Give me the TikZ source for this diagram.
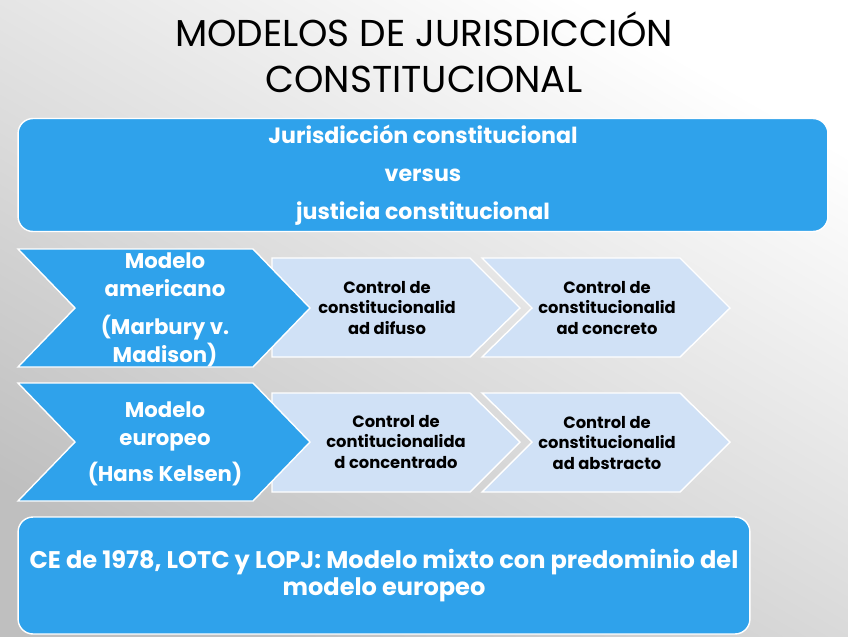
\documentclass[tikz,border=0pt]{standalone}
\usepackage{fontspec}
\setmainfont{Poppins}
\usepackage{tikz}
\usepackage{xcolor}

\definecolor{boxblue}{RGB}{47,162,235}
\definecolor{paleblue}{RGB}{208,225,246}

\begin{document}
\begin{tikzpicture}[
  x=0.02cm, y=-0.02cm,
  bigbox/.style={draw=white, line width=0.8pt, fill=boxblue, rounded corners=8.5pt,
    text=white, align=center, inner sep=0pt},
  chev/.style={draw=white, line width=0.8pt, fill=boxblue},
  pale/.style={draw=white, line width=0.8pt, fill=paleblue},
  chevtxt/.style={text=white, align=center, inner sep=0pt,
    font=\bfseries\fontsize{12.1}{15.8}\selectfont},
  paletxt/.style={text=black, align=center, inner sep=0pt,
    font=\bfseries\fontsize{9.3}{11.9}\selectfont}
]
  % background
  \shade[top color=white, bottom color=gray!50, shading angle=-30] (0,0) rectangle (848,636);

  % title
  \node[align=center, font=\fontsize{21.3}{26}\selectfont] (title) at (424,52)
    {MODELOS DE JURISDICCIÓN\\CONSTITUCIONAL};

  % top box
  \node[bigbox, minimum width=16.2cm, minimum height=2.26cm,
    font=\bfseries\fontsize{12.6}{21.5}\selectfont] (jurbox) at (423,175)
    {Jurisdicción constitucional\\versus\\justicia constitucional};

  % row 1: modelo americano
  \path[pale] (272,258) -- (470,258) -- (520,308) -- (470,357) -- (272,357) -- cycle;
  \path[pale] (482,258) -- (680,258) -- (730,308) -- (680,357) -- (482,357) -- (532,308) -- cycle;
  \path[chev] (18,249) -- (253,249) -- (310,308) -- (253,367) -- (18,367) -- (75,308) -- cycle;
  \node[chevtxt] (amer) at (165,310) {Modelo\\americano\\[6pt](Marbury v.\\Madison)};
  \node[paletxt] (difuso) at (387,308) {Control de\\constitucionalid\\ad difuso};
  \node[paletxt] (concreto) at (607,308) {Control de\\constitucionalid\\ad concreto};

  % row 2: modelo europeo
  \path[pale] (272,393) -- (470,393) -- (520,442) -- (470,492) -- (272,492) -- cycle;
  \path[pale] (482,393) -- (680,393) -- (730,442) -- (680,492) -- (482,492) -- (532,442) -- cycle;
  \path[chev] (18,383) -- (253,383) -- (310,442) -- (253,501) -- (18,501) -- (75,442) -- cycle;
  \node[chevtxt] (europ) at (165,444) {Modelo\\europeo\\[5pt](Hans Kelsen)};
  \node[paletxt] (concen) at (396,442) {Control de\\contitucionalida\\d concentrado};
  \node[paletxt] (abstr) at (607,443) {Control de\\constitucionalid\\ad abstracto};

  % bottom box
  \node[bigbox, minimum width=14.64cm, minimum height=2.34cm,
    font=\bfseries\fontsize{13.7}{15.5}\selectfont] (mixto) at (384,575.5)
    {CE de 1978, LOTC y LOPJ: Modelo mixto con predominio del\\modelo europeo};
\end{tikzpicture}
\end{document}
